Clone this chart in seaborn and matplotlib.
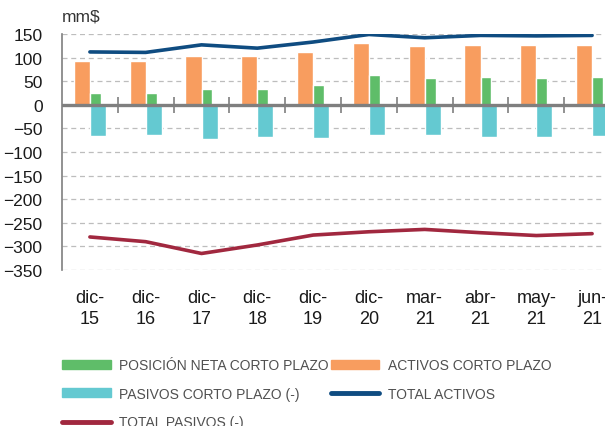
import numpy as np
import pandas as pd
import matplotlib
matplotlib.use('Agg')
import matplotlib.pyplot as plt
import seaborn as sns
from matplotlib.patches import Patch
from matplotlib.lines import Line2D

# data (mm$)
periodos = ['dic-\n15', 'dic-\n16', 'dic-\n17', 'dic-\n18', 'dic-\n19',
            'dic-\n20', 'mar-\n21', 'abr-\n21', 'may-\n21', 'jun-\n21']
activos_cp = [93, 92, 104, 103, 112, 130, 124, 127, 126, 127]
posicion_neta_cp = [26, 26, 33, 34, 42, 63, 57, 58, 56, 58]
pasivos_cp = [-66, -65, -72, -69, -70, -65, -65, -68, -68, -66]
total_activos = [112, 111, 127, 120, 133, 149, 142, 147, 146, 147]
total_pasivos = [-280, -290, -315, -297, -276, -269, -264, -271, -277, -273]

c_verde = '#5fbd69'
c_naranja = '#f89d5f'
c_cian = '#64c9d1'
c_azul = '#0f4c81'
c_rojo = '#a1283f'

sns.set_style('white')
plt.rcParams['font.family'] = ['Liberation Sans', 'DejaVu Sans']

df = pd.DataFrame({'idx': np.arange(len(periodos)),
                   'activos': activos_cp, 'neta': posicion_neta_cp,
                   'pasivos': pasivos_cp, 'tot_act': total_activos,
                   'tot_pas': total_pasivos})

fig = plt.figure(figsize=(6.05, 4.27), dpi=100)
ax = fig.add_axes([62/605, 1-271/427, 558/605, 236/427])

w = 0.287
sns.barplot(x=df['idx'] - w/2, y=df['activos'], native_scale=True, width=w,
            color=c_naranja, saturation=1, ax=ax, zorder=3)
sns.barplot(x=df['idx'] + w/2, y=df['pasivos'], native_scale=True, width=w,
            color=c_cian, saturation=1, ax=ax, zorder=3)
sns.barplot(x=df['idx'] + 0.0985, y=df['neta'], native_scale=True, width=0.197,
            color=c_verde, saturation=1, ax=ax, zorder=4)
sns.lineplot(data=df, x='idx', y='tot_act', color=c_azul, lw=2.6, ax=ax, zorder=5)
sns.lineplot(data=df, x='idx', y='tot_pas', color=c_rojo, lw=2.6, ax=ax, zorder=5)
ax.axhline(0, color='#7f7f7f', lw=2.4, zorder=6)

ax.set_xlim(-0.5, len(periodos) - 0.5)
ax.set_ylim(-350, 150)
ax.set_yticks(np.arange(-350, 151, 50))
ax.yaxis.grid(True, color='#bdbdbd', ls=(0, (4, 3)), lw=0.9)
ax.set_axisbelow(True)
ax.tick_params(axis='y', length=0, pad=14, labelsize=12.5, labelcolor='#1a1a1a')
ax.set_xticks(df['idx'])
ax.set_xticklabels(periodos, linespacing=1.3)
ax.tick_params(axis='x', length=0, pad=14, labelsize=13, labelcolor='#1a1a1a')
ax.set_xlabel('')
ax.set_ylabel('')
for s in ['top', 'right', 'bottom']:
    ax.spines[s].set_visible(False)
ax.spines['left'].set_color('#7f7f7f')
ax.spines['left'].set_linewidth(1.2)

# category separators on the zero axis
zero = ax.secondary_xaxis(350/500)
zero.spines['bottom'].set_visible(False)
zero.set_xticks(np.arange(0.5, len(periodos) - 0.5, 1))
zero.set_xticklabels([])
zero.tick_params(direction='inout', length=11, width=1.2, color='#7f7f7f')

fig.text(62/605, 1-17/427, 'mm$', fontsize=12.5, color='#333333', va='center', ha='left')

handles = [Patch(color=c_verde), Patch(color=c_cian),
           Line2D([], [], color=c_rojo, lw=3.5),
           Patch(color=c_naranja), Line2D([], [], color=c_azul, lw=3.5)]
labels = ['POSICIÓN NETA CORTO PLAZO', 'PASIVOS CORTO PLAZO (-)', 'TOTAL PASIVOS (-)',
          'ACTIVOS CORTO PLAZO', 'TOTAL ACTIVOS']
leg = fig.legend(handles, labels, ncol=2, loc='upper left',
                 bbox_to_anchor=(62/605, 1-359/427), frameon=False,
                 borderpad=0, borderaxespad=0, handlelength=3.5, handleheight=0.6,
                 handletextpad=0.6, labelspacing=1.05, columnspacing=0.15,
                 prop={'family': ['Liberation Sans Narrow', 'Liberation Sans'], 'size': 10})
for t in leg.get_texts():
    t.set_color('#505050')

fig.savefig('out.png', dpi=100)
